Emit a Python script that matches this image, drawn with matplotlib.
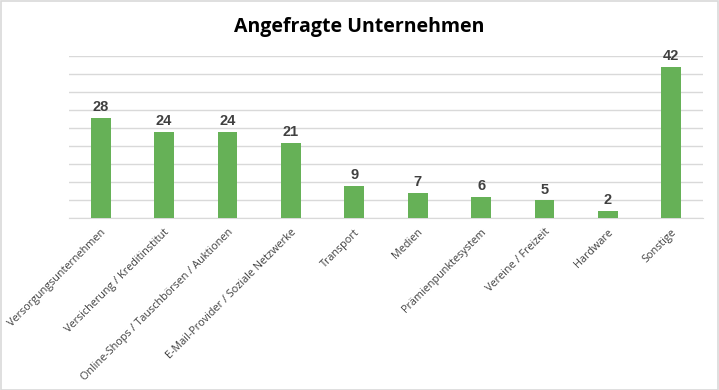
import numpy as np
import matplotlib
matplotlib.use('Agg')
import matplotlib.pyplot as plt
from matplotlib.patches import Rectangle

# Daten
kategorien = ['Versorgungsunternehmen', 'Versicherung / Kreditinstitut',
              'Online-Shops / Tauschbörsen / Auktionen', 'E-Mail-Provider / Soziale Netzwerke',
              'Transport', 'Medien', 'Prämienpunktesystem', 'Vereine / Freizeit',
              'Hardware', 'Sonstige']
anzahl = [28, 24, 24, 21, 9, 7, 6, 5, 2, 42]

plt.rcParams['font.family'] = ['Open Sans', 'DejaVu Sans']

fig = plt.figure(figsize=(7.19, 3.9), dpi=100)
ax = fig.add_axes([69 / 719, 1 - 218.3 / 390, (703 - 69) / 719, (218.3 - 56.3) / 390])

x = np.arange(len(kategorien))
ax.bar(x, anzahl, width=0.315, color='#66b157', zorder=3)
for xi, v in zip(x, anzahl):
    ax.text(xi, v + 1.0, str(v), ha='center', va='bottom', fontsize=10.5,
            fontweight='bold', color='#404040', family='Liberation Sans')

ax.set_xlim(-0.5, len(kategorien) - 0.5)
ax.set_ylim(0, 45)
ax.set_yticks(np.arange(0, 46, 5))
ax.yaxis.grid(True, color='#d9d9d9', lw=1)
ax.set_yticklabels([])
ax.tick_params(axis='y', length=0)
ax.tick_params(axis='x', length=0, pad=6)
ax.set_xticks(x)
ax.set_xticklabels(kategorien, rotation=45, ha='right', rotation_mode='anchor',
                   fontsize=7.8, color='#404040')
for s in ['top', 'right', 'left']:
    ax.spines[s].set_visible(False)
ax.spines['bottom'].set_color('#d9d9d9')

fig.text(0.5, 1 - 27 / 390, 'Angefragte Unternehmen', ha='center', va='center',
         fontsize=14, fontweight='bold', color='black')

fig.patches.append(Rectangle((0.001, 0.001), 0.997, 0.996, transform=fig.transFigure,
                             fill=False, edgecolor='#d9d9d9', lw=1.2))

fig.savefig('out.png', dpi=100)
